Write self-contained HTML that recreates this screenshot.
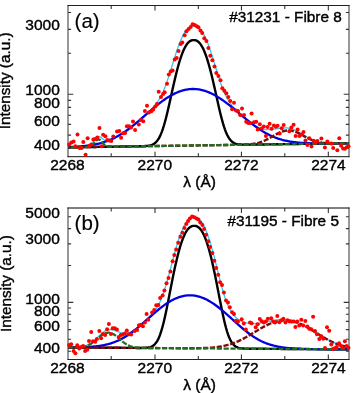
<!DOCTYPE html>
<html><head><meta charset="utf-8"><style>
html,body{margin:0;padding:0;background:#fff;}
svg{display:block;will-change:transform;}
text{font-family:"Liberation Sans",sans-serif;fill:#000;stroke:#000;stroke-width:0.4px;-webkit-font-smoothing:antialiased;}
</style></head><body>
<svg width="357" height="393" viewBox="0 0 357 393">
<rect width="357" height="393" fill="#fff"/>
<clipPath id="ca"><rect x="68.0" y="5.5" width="281.0" height="151.2"/></clipPath>
<g clip-path="url(#ca)" fill="none"><path d="M68.0,147.36 69.0,147.34 70.0,147.33 71.0,147.31 72.0,147.30 73.0,147.28 74.0,147.27 75.0,147.25 76.0,147.24 77.0,147.22 78.0,147.21 79.0,147.19 80.0,147.18 81.0,147.16 82.0,147.15 83.0,147.13 84.0,147.11 85.0,147.10 86.0,147.08 87.0,147.07 88.0,147.05 89.0,147.04 90.0,147.02 91.0,147.01 92.0,146.99 93.0,146.98 94.0,146.96 95.0,146.95 96.0,146.93 97.0,146.92 98.0,146.90 99.0,146.89 100.0,146.87 101.0,146.86 102.0,146.84 103.0,146.83 104.0,146.81 105.0,146.80 106.0,146.78 107.0,146.77 108.0,146.75 109.0,146.74 110.0,146.72 111.0,146.71 112.0,146.69 113.0,146.68 114.0,146.66 115.0,146.65 116.0,146.63 117.0,146.62 118.0,146.60 119.0,146.59 120.0,146.57 121.0,146.56 122.0,146.54 123.0,146.53 124.0,146.51 125.0,146.50 126.0,146.48 127.0,146.47 128.0,146.45 129.0,146.44 130.0,146.42 131.0,146.41 132.0,146.39 133.0,146.38 134.0,146.36 135.0,146.34 136.0,146.33 137.0,146.31 138.0,146.29 139.0,146.27 140.0,146.25 141.0,146.23 142.0,146.20 143.0,146.17 144.0,146.12 145.0,146.07 146.0,146.00 147.0,145.90 148.0,145.78 149.0,145.62 150.0,145.41 151.0,145.14 152.0,144.79 153.0,144.34 154.0,143.76 155.0,143.03 156.0,142.13 157.0,141.01 158.0,139.66 159.0,138.04 160.0,136.13 161.0,133.90 162.0,131.35 163.0,128.47 164.0,125.27 165.0,121.77 166.0,117.99 167.0,113.96 168.0,109.74 169.0,105.36 170.0,100.88 171.0,96.35 172.0,91.82 173.0,87.32 174.0,82.91 175.0,78.61 176.0,74.47 177.0,70.50 178.0,66.74 179.0,63.20 180.0,59.90 181.0,56.85 182.0,54.05 183.0,51.52 184.0,49.26 185.0,47.26 186.0,45.53 187.0,44.06 188.0,42.84 189.0,41.86 190.0,41.12 191.0,40.60 192.0,40.28 193.0,40.13 194.0,40.11 195.0,40.20 196.0,40.44 197.0,40.88 198.0,41.53 199.0,42.40 200.0,43.52 201.0,44.89 202.0,46.51 203.0,48.40 204.0,50.55 205.0,52.97 206.0,55.66 207.0,58.60 208.0,61.79 209.0,65.23 210.0,68.89 211.0,72.76 212.0,76.82 213.0,81.04 214.0,85.38 215.0,89.82 216.0,94.32 217.0,98.82 218.0,103.29 219.0,107.66 220.0,111.91 221.0,115.96 222.0,119.79 223.0,123.35 224.0,126.62 225.0,129.57 226.0,132.19 227.0,134.48 228.0,136.46 229.0,138.14 230.0,139.54 231.0,140.70 232.0,141.63 233.0,142.38 234.0,142.98 235.0,143.44 236.0,143.79 237.0,144.06 238.0,144.25 239.0,144.40 240.0,144.50 241.0,144.57 242.0,144.62 243.0,144.65 244.0,144.67 245.0,144.68 246.0,144.68 247.0,144.67 248.0,144.66 249.0,144.65 250.0,144.64 251.0,144.63 252.0,144.62 253.0,144.60 254.0,144.59 255.0,144.58 256.0,144.56 257.0,144.55 258.0,144.53 259.0,144.52 260.0,144.50 261.0,144.49 262.0,144.48 263.0,144.46 264.0,144.45 265.0,144.43 266.0,144.42 267.0,144.40 268.0,144.39 269.0,144.37 270.0,144.36 271.0,144.34 272.0,144.33 273.0,144.32 274.0,144.30 275.0,144.29 276.0,144.27 277.0,144.26 278.0,144.24 279.0,144.23 280.0,144.21 281.0,144.20 282.0,144.19 283.0,144.17 284.0,144.16 285.0,144.14 286.0,144.13 287.0,144.11 288.0,144.10 289.0,144.08 290.0,144.07 291.0,144.06 292.0,144.04 293.0,144.03 294.0,144.01 295.0,144.00 296.0,143.98 297.0,143.97 298.0,143.96 299.0,143.94 300.0,143.93 301.0,143.91 302.0,143.90 303.0,143.88 304.0,143.87 305.0,143.85 306.0,143.84 307.0,143.83 308.0,143.81 309.0,143.80 310.0,143.78 311.0,143.77 312.0,143.75 313.0,143.74 314.0,143.73 315.0,143.71 316.0,143.70 317.0,143.68 318.0,143.67 319.0,143.65 320.0,143.64 321.0,143.63 322.0,143.61 323.0,143.60 324.0,143.58 325.0,143.57 326.0,143.55 327.0,143.54 328.0,143.53 329.0,143.51 330.0,143.50 331.0,143.48 332.0,143.47 333.0,143.45 334.0,143.44 335.0,143.43 336.0,143.41 337.0,143.40 338.0,143.38 339.0,143.37 340.0,143.35 341.0,143.34 342.0,143.33 343.0,143.31 344.0,143.30 345.0,143.28 346.0,143.27 347.0,143.26 348.0,143.24 349.0,143.23" stroke="#000" stroke-width="2.4"/><path d="M68.0,147.09 69.0,147.05 70.0,147.00 71.0,146.96 72.0,146.91 73.0,146.86 74.0,146.80 75.0,146.74 76.0,146.68 77.0,146.61 78.0,146.54 79.0,146.47 80.0,146.39 81.0,146.31 82.0,146.22 83.0,146.12 84.0,146.02 85.0,145.90 86.0,145.78 87.0,145.62 88.0,145.42 89.0,145.13 90.0,144.73 91.0,144.15 92.0,143.34 93.0,142.31 94.0,141.07 95.0,139.73 96.0,138.45 97.0,137.40 98.0,136.74 99.0,136.54 100.0,136.79 101.0,137.40 102.0,138.22 103.0,139.06 104.0,139.79 105.0,140.29 106.0,140.56 107.0,140.60 108.0,140.46 109.0,140.20 110.0,139.86 111.0,139.47 112.0,139.04 113.0,138.59 114.0,138.11 115.0,137.61 116.0,137.10 117.0,136.56 118.0,136.01 119.0,135.44 120.0,134.85 121.0,134.25 122.0,133.62 123.0,132.98 124.0,132.32 125.0,131.64 126.0,130.95 127.0,130.24 128.0,129.51 129.0,128.77 130.0,128.02 131.0,127.25 132.0,126.47 133.0,125.67 134.0,124.86 135.0,124.05 136.0,123.22 137.0,122.38 138.0,121.53 139.0,120.68 140.0,119.82 141.0,118.95 142.0,118.07 143.0,117.19 144.0,116.30 145.0,115.40 146.0,114.49 147.0,113.57 148.0,112.64 149.0,111.70 150.0,110.73 151.0,109.73 152.0,108.70 153.0,107.62 154.0,106.50 155.0,105.31 156.0,104.04 157.0,102.69 158.0,101.23 159.0,99.65 160.0,97.94 161.0,96.09 162.0,94.08 163.0,91.91 164.0,89.57 165.0,87.08 166.0,84.42 167.0,81.61 168.0,78.68 169.0,75.63 170.0,72.49 171.0,69.28 172.0,66.04 173.0,62.79 174.0,59.56 175.0,56.38 176.0,53.27 177.0,50.26 178.0,47.38 179.0,44.64 180.0,42.05 181.0,39.64 182.0,37.42 183.0,35.39 184.0,33.56 185.0,31.94 186.0,30.53 187.0,29.32 188.0,28.32 189.0,27.51 190.0,26.90 191.0,26.47 192.0,26.20 193.0,26.08 194.0,26.07 195.0,26.15 196.0,26.37 197.0,26.75 198.0,27.30 199.0,28.04 200.0,28.98 201.0,30.12 202.0,31.47 203.0,33.03 204.0,34.79 205.0,36.76 206.0,38.92 207.0,41.28 208.0,43.82 209.0,46.52 210.0,49.38 211.0,52.36 212.0,55.46 213.0,58.64 214.0,61.88 215.0,65.16 216.0,68.44 217.0,71.69 218.0,74.89 219.0,78.01 220.0,81.03 221.0,83.92 222.0,86.66 223.0,89.25 224.0,91.67 225.0,93.93 226.0,96.02 227.0,97.95 228.0,99.72 229.0,101.36 230.0,102.87 231.0,104.26 232.0,105.56 233.0,106.77 234.0,107.91 235.0,108.99 236.0,110.02 237.0,111.01 238.0,111.97 239.0,112.89 240.0,113.80 241.0,114.69 242.0,115.56 243.0,116.41 244.0,117.25 245.0,118.08 246.0,118.89 247.0,119.69 248.0,120.47 249.0,121.23 250.0,121.98 251.0,122.70 252.0,123.41 253.0,124.08 254.0,124.73 255.0,125.35 256.0,125.93 257.0,126.48 258.0,126.99 259.0,127.46 260.0,127.89 261.0,128.27 262.0,128.61 263.0,128.90 264.0,129.15 265.0,129.34 266.0,129.49 267.0,129.59 268.0,129.65 269.0,129.66 270.0,129.64 271.0,129.58 272.0,129.48 273.0,129.36 274.0,129.22 275.0,129.06 276.0,128.89 277.0,128.71 278.0,128.54 279.0,128.37 280.0,128.22 281.0,128.08 282.0,127.97 283.0,127.89 284.0,127.84 285.0,127.84 286.0,127.87 287.0,127.95 288.0,128.07 289.0,128.24 290.0,128.46 291.0,128.73 292.0,129.04 293.0,129.40 294.0,129.81 295.0,130.25 296.0,130.73 297.0,131.25 298.0,131.79 299.0,132.35 300.0,132.94 301.0,133.54 302.0,134.15 303.0,134.76 304.0,135.37 305.0,135.97 306.0,136.57 307.0,137.14 308.0,137.70 309.0,138.23 310.0,138.74 311.0,139.22 312.0,139.68 313.0,140.10 314.0,140.49 315.0,140.84 316.0,141.17 317.0,141.47 318.0,141.73 319.0,141.97 320.0,142.18 321.0,142.37 322.0,142.53 323.0,142.67 324.0,142.80 325.0,142.90 326.0,142.99 327.0,143.06 328.0,143.12 329.0,143.17 330.0,143.21 331.0,143.25 332.0,143.27 333.0,143.29 334.0,143.30 335.0,143.31 336.0,143.32 337.0,143.32 338.0,143.32 339.0,143.31 340.0,143.31 341.0,143.30 342.0,143.29 343.0,143.28 344.0,143.27 345.0,143.26 346.0,143.25 347.0,143.24 348.0,143.23 349.0,143.22" stroke="#2ec8f0" stroke-width="1.3"/><path d="M68.0,147.09 69.0,147.05 70.0,147.00 71.0,146.96 72.0,146.91 73.0,146.86 74.0,146.80 75.0,146.74 76.0,146.68 77.0,146.61 78.0,146.54 79.0,146.47 80.0,146.39 81.0,146.31 82.0,146.22 83.0,146.12 84.0,146.02 85.0,145.91 86.0,145.80 87.0,145.68 88.0,145.55 89.0,145.41 90.0,145.27 91.0,145.12 92.0,144.95 93.0,144.78 94.0,144.60 95.0,144.40 96.0,144.20 97.0,143.98 98.0,143.76 99.0,143.52 100.0,143.26 101.0,143.00 102.0,142.72 103.0,142.42 104.0,142.11 105.0,141.78 106.0,141.44 107.0,141.09 108.0,140.71 109.0,140.32 110.0,139.92 111.0,139.49 112.0,139.05 113.0,138.59 114.0,138.11 115.0,137.61 116.0,137.10 117.0,136.56 118.0,136.01 119.0,135.44 120.0,134.85 121.0,134.25 122.0,133.62 123.0,132.98 124.0,132.32 125.0,131.64 126.0,130.95 127.0,130.24 128.0,129.51 129.0,128.77 130.0,128.02 131.0,127.25 132.0,126.47 133.0,125.67 134.0,124.86 135.0,124.05 136.0,123.22 137.0,122.38 138.0,121.54 139.0,120.69 140.0,119.83 141.0,118.96 142.0,118.10 143.0,117.23 144.0,116.35 145.0,115.48 146.0,114.60 147.0,113.73 148.0,112.85 149.0,111.98 150.0,111.12 151.0,110.26 152.0,109.40 153.0,108.55 154.0,107.71 155.0,106.88 156.0,106.06 157.0,105.25 158.0,104.45 159.0,103.66 160.0,102.89 161.0,102.13 162.0,101.38 163.0,100.65 164.0,99.94 165.0,99.25 166.0,98.57 167.0,97.91 168.0,97.27 169.0,96.66 170.0,96.06 171.0,95.48 172.0,94.93 173.0,94.39 174.0,93.88 175.0,93.40 176.0,92.93 177.0,92.49 178.0,92.08 179.0,91.69 180.0,91.33 181.0,90.99 182.0,90.68 183.0,90.39 184.0,90.13 185.0,89.90 186.0,89.69 187.0,89.51 188.0,89.36 189.0,89.23 190.0,89.13 191.0,89.06 192.0,89.02 193.0,89.00 194.0,89.01 195.0,89.05 196.0,89.12 197.0,89.21 198.0,89.33 199.0,89.48 200.0,89.66 201.0,89.86 202.0,90.09 203.0,90.34 204.0,90.62 205.0,90.93 206.0,91.26 207.0,91.62 208.0,92.00 209.0,92.41 210.0,92.84 211.0,93.30 212.0,93.78 213.0,94.28 214.0,94.80 215.0,95.35 216.0,95.91 217.0,96.50 218.0,97.11 219.0,97.74 220.0,98.38 221.0,99.05 222.0,99.73 223.0,100.43 224.0,101.14 225.0,101.87 226.0,102.61 227.0,103.37 228.0,104.14 229.0,104.92 230.0,105.71 231.0,106.51 232.0,107.32 233.0,108.14 234.0,108.96 235.0,109.80 236.0,110.63 237.0,111.47 238.0,112.31 239.0,113.16 240.0,114.01 241.0,114.85 242.0,115.70 243.0,116.54 244.0,117.38 245.0,118.21 246.0,119.04 247.0,119.86 248.0,120.68 249.0,121.49 250.0,122.29 251.0,123.07 252.0,123.85 253.0,124.62 254.0,125.37 255.0,126.11 256.0,126.84 257.0,127.55 258.0,128.25 259.0,128.93 260.0,129.60 261.0,130.25 262.0,130.88 263.0,131.49 264.0,132.09 265.0,132.67 266.0,133.23 267.0,133.77 268.0,134.29 269.0,134.80 270.0,135.29 271.0,135.75 272.0,136.21 273.0,136.64 274.0,137.05 275.0,137.45 276.0,137.83 277.0,138.19 278.0,138.54 279.0,138.86 280.0,139.18 281.0,139.47 282.0,139.76 283.0,140.02 284.0,140.27 285.0,140.51 286.0,140.74 287.0,140.95 288.0,141.15 289.0,141.34 290.0,141.51 291.0,141.68 292.0,141.83 293.0,141.97 294.0,142.11 295.0,142.23 296.0,142.35 297.0,142.46 298.0,142.56 299.0,142.65 300.0,142.73 301.0,142.81 302.0,142.88 303.0,142.95 304.0,143.01 305.0,143.06 306.0,143.11 307.0,143.16 308.0,143.20 309.0,143.24 310.0,143.27 311.0,143.30 312.0,143.33 313.0,143.35 314.0,143.37 315.0,143.38 316.0,143.40 317.0,143.41 318.0,143.42 319.0,143.43 320.0,143.44 321.0,143.44 322.0,143.44 323.0,143.44 324.0,143.44 325.0,143.44 326.0,143.44 327.0,143.44 328.0,143.43 329.0,143.43 330.0,143.42 331.0,143.42 332.0,143.41 333.0,143.40 334.0,143.39 335.0,143.38 336.0,143.37 337.0,143.36 338.0,143.35 339.0,143.34 340.0,143.33 341.0,143.32 342.0,143.31 343.0,143.29 344.0,143.28 345.0,143.27 346.0,143.26 347.0,143.24 348.0,143.23 349.0,143.22" stroke="#0000e0" stroke-width="2.3"/><path d="M68.0,147.36 69.0,147.34 70.0,147.33 71.0,147.31 72.0,147.30 73.0,147.28 74.0,147.27 75.0,147.25 76.0,147.24 77.0,147.22 78.0,147.21 79.0,147.19 80.0,147.18 81.0,147.16 82.0,147.15 83.0,147.13 84.0,147.11 85.0,147.10 86.0,147.08 87.0,147.07 88.0,147.05 89.0,147.04 90.0,147.02 91.0,147.01 92.0,146.99 93.0,146.98 94.0,146.96 95.0,146.95 96.0,146.93 97.0,146.92 98.0,146.90 99.0,146.89 100.0,146.87 101.0,146.86 102.0,146.84 103.0,146.83 104.0,146.81 105.0,146.80 106.0,146.78 107.0,146.77 108.0,146.75 109.0,146.74 110.0,146.72 111.0,146.71 112.0,146.69 113.0,146.68 114.0,146.66 115.0,146.65 116.0,146.63 117.0,146.62 118.0,146.60 119.0,146.59 120.0,146.57 121.0,146.56 122.0,146.54 123.0,146.53 124.0,146.51 125.0,146.50 126.0,146.48 127.0,146.47 128.0,146.45 129.0,146.44 130.0,146.42 131.0,146.41 132.0,146.39 133.0,146.38 134.0,146.36 135.0,146.35 136.0,146.33 137.0,146.32 138.0,146.30 139.0,146.29 140.0,146.27 141.0,146.26 142.0,146.24 143.0,146.23 144.0,146.21 145.0,146.20 146.0,146.18 147.0,146.17 148.0,146.15 149.0,146.14 150.0,146.12 151.0,146.11 152.0,146.09 153.0,146.08 154.0,146.06 155.0,146.05 156.0,146.03 157.0,146.02 158.0,146.00 159.0,145.99 160.0,145.97 161.0,145.96 162.0,145.94 163.0,145.93 164.0,145.91 165.0,145.90 166.0,145.88 167.0,145.87 168.0,145.85 169.0,145.84 170.0,145.82 171.0,145.81 172.0,145.80 173.0,145.78 174.0,145.77 175.0,145.75 176.0,145.74 177.0,145.72 178.0,145.71 179.0,145.69 180.0,145.68 181.0,145.66 182.0,145.65 183.0,145.63 184.0,145.62 185.0,145.60 186.0,145.59 187.0,145.57 188.0,145.56 189.0,145.54 190.0,145.53 191.0,145.51 192.0,145.50 193.0,145.48 194.0,145.47 195.0,145.45 196.0,145.44 197.0,145.43 198.0,145.41 199.0,145.40 200.0,145.38 201.0,145.37 202.0,145.35 203.0,145.34 204.0,145.32 205.0,145.31 206.0,145.29 207.0,145.28 208.0,145.26 209.0,145.25 210.0,145.23 211.0,145.22 212.0,145.20 213.0,145.19 214.0,145.18 215.0,145.16 216.0,145.15 217.0,145.13 218.0,145.12 219.0,145.10 220.0,145.09 221.0,145.07 222.0,145.06 223.0,145.04 224.0,145.03 225.0,145.01 226.0,145.00 227.0,144.98 228.0,144.97 229.0,144.95 230.0,144.94 231.0,144.92 232.0,144.90 233.0,144.89 234.0,144.87 235.0,144.85 236.0,144.83 237.0,144.81 238.0,144.79 239.0,144.77 240.0,144.74 241.0,144.71 242.0,144.68 243.0,144.65 244.0,144.60 245.0,144.56 246.0,144.51 247.0,144.45 248.0,144.38 249.0,144.30 250.0,144.21 251.0,144.11 252.0,143.99 253.0,143.85 254.0,143.70 255.0,143.53 256.0,143.34 257.0,143.12 258.0,142.88 259.0,142.61 260.0,142.31 261.0,141.99 262.0,141.63 263.0,141.25 264.0,140.84 265.0,140.40 266.0,139.93 267.0,139.43 268.0,138.92 269.0,138.38 270.0,137.82 271.0,137.25 272.0,136.68 273.0,136.10 274.0,135.52 275.0,134.94 276.0,134.38 277.0,133.84 278.0,133.32 279.0,132.83 280.0,132.37 281.0,131.95 282.0,131.57 283.0,131.25 284.0,130.97 285.0,130.75 286.0,130.58 287.0,130.47 288.0,130.42 289.0,130.43 290.0,130.50 291.0,130.63 292.0,130.82 293.0,131.06 294.0,131.35 295.0,131.69 296.0,132.07 297.0,132.49 298.0,132.95 299.0,133.44 300.0,133.95 301.0,134.48 302.0,135.02 303.0,135.57 304.0,136.12 305.0,136.67 306.0,137.21 307.0,137.74 308.0,138.26 309.0,138.75 310.0,139.22 311.0,139.66 312.0,140.08 313.0,140.47 314.0,140.83 315.0,141.16 316.0,141.46 317.0,141.73 318.0,141.97 319.0,142.19 320.0,142.38 321.0,142.55 322.0,142.70 323.0,142.82 324.0,142.93 325.0,143.02 326.0,143.10 327.0,143.16 328.0,143.22 329.0,143.26 330.0,143.29 331.0,143.31 332.0,143.33 333.0,143.34 334.0,143.35 335.0,143.36 336.0,143.36 337.0,143.35 338.0,143.35 339.0,143.34 340.0,143.33 341.0,143.32 342.0,143.31 343.0,143.30 344.0,143.29 345.0,143.28 346.0,143.27 347.0,143.25 348.0,143.24 349.0,143.22" stroke="#7c0c0c" stroke-width="2.4" stroke-dasharray="5.2 1.65" stroke-dashoffset="2.49"/><path d="M68.0,147.36 69.0,147.34 70.0,147.33 71.0,147.31 72.0,147.30 73.0,147.28 74.0,147.27 75.0,147.25 76.0,147.24 77.0,147.22 78.0,147.21 79.0,147.19 80.0,147.18 81.0,147.16 82.0,147.14 83.0,147.13 84.0,147.11 85.0,147.09 86.0,147.06 87.0,147.01 88.0,146.92 89.0,146.75 90.0,146.47 91.0,146.01 92.0,145.33 93.0,144.41 94.0,143.29 95.0,142.08 96.0,140.93 97.0,140.02 98.0,139.52 99.0,139.52 100.0,140.01 101.0,140.91 102.0,142.04 103.0,143.22 104.0,144.30 105.0,145.17 106.0,145.81 107.0,146.23 108.0,146.47 109.0,146.60 110.0,146.66 111.0,146.68 112.0,146.68 113.0,146.67 114.0,146.66 115.0,146.65 116.0,146.63 117.0,146.62 118.0,146.60 119.0,146.59 120.0,146.57 121.0,146.56 122.0,146.54 123.0,146.53 124.0,146.51 125.0,146.50 126.0,146.48 127.0,146.47 128.0,146.45 129.0,146.44 130.0,146.42 131.0,146.41 132.0,146.39 133.0,146.38 134.0,146.36 135.0,146.35 136.0,146.33 137.0,146.32 138.0,146.30 139.0,146.29 140.0,146.27 141.0,146.26 142.0,146.24 143.0,146.23 144.0,146.21 145.0,146.20 146.0,146.18 147.0,146.17 148.0,146.15 149.0,146.14 150.0,146.12 151.0,146.11 152.0,146.09 153.0,146.08 154.0,146.06 155.0,146.05 156.0,146.03 157.0,146.02 158.0,146.00 159.0,145.99 160.0,145.97 161.0,145.96 162.0,145.94 163.0,145.93 164.0,145.91 165.0,145.90 166.0,145.88 167.0,145.87 168.0,145.85 169.0,145.84 170.0,145.82 171.0,145.81 172.0,145.80 173.0,145.78 174.0,145.77 175.0,145.75 176.0,145.74 177.0,145.72 178.0,145.71 179.0,145.69 180.0,145.68 181.0,145.66 182.0,145.65 183.0,145.63 184.0,145.62 185.0,145.60 186.0,145.59 187.0,145.57 188.0,145.56 189.0,145.54 190.0,145.53 191.0,145.51 192.0,145.50 193.0,145.48 194.0,145.47 195.0,145.45 196.0,145.44 197.0,145.43 198.0,145.41 199.0,145.40 200.0,145.38 201.0,145.37 202.0,145.35 203.0,145.34 204.0,145.32 205.0,145.31 206.0,145.29 207.0,145.28 208.0,145.26 209.0,145.25 210.0,145.23 211.0,145.22 212.0,145.20 213.0,145.19 214.0,145.18 215.0,145.16 216.0,145.15 217.0,145.13 218.0,145.12 219.0,145.10 220.0,145.09 221.0,145.07 222.0,145.06 223.0,145.04 224.0,145.03 225.0,145.01 226.0,145.00 227.0,144.98 228.0,144.97 229.0,144.96 230.0,144.94 231.0,144.93 232.0,144.91 233.0,144.90 234.0,144.88 235.0,144.87 236.0,144.85 237.0,144.84 238.0,144.82 239.0,144.81 240.0,144.80 241.0,144.78 242.0,144.77 243.0,144.75 244.0,144.74 245.0,144.72 246.0,144.71 247.0,144.69 248.0,144.68 249.0,144.66 250.0,144.65 251.0,144.63 252.0,144.62 253.0,144.61 254.0,144.59 255.0,144.58 256.0,144.56 257.0,144.55 258.0,144.53 259.0,144.52 260.0,144.50 261.0,144.49 262.0,144.48 263.0,144.46 264.0,144.45 265.0,144.43 266.0,144.42 267.0,144.40 268.0,144.39 269.0,144.37 270.0,144.36 271.0,144.34 272.0,144.33 273.0,144.32 274.0,144.30 275.0,144.29 276.0,144.27 277.0,144.26 278.0,144.24 279.0,144.23 280.0,144.21 281.0,144.20 282.0,144.19 283.0,144.17 284.0,144.16 285.0,144.14 286.0,144.13 287.0,144.11 288.0,144.10 289.0,144.08 290.0,144.07 291.0,144.06 292.0,144.04 293.0,144.03 294.0,144.01 295.0,144.00 296.0,143.98 297.0,143.97 298.0,143.96 299.0,143.94 300.0,143.93 301.0,143.91 302.0,143.90 303.0,143.88 304.0,143.87 305.0,143.85 306.0,143.84 307.0,143.83 308.0,143.81 309.0,143.80 310.0,143.78 311.0,143.77 312.0,143.75 313.0,143.74 314.0,143.73 315.0,143.71 316.0,143.70 317.0,143.68 318.0,143.67 319.0,143.65 320.0,143.64 321.0,143.63 322.0,143.61 323.0,143.60 324.0,143.58 325.0,143.57 326.0,143.55 327.0,143.54 328.0,143.53 329.0,143.51 330.0,143.50 331.0,143.48 332.0,143.47 333.0,143.45 334.0,143.44 335.0,143.43 336.0,143.41 337.0,143.40 338.0,143.38 339.0,143.37 340.0,143.35 341.0,143.34 342.0,143.33 343.0,143.31 344.0,143.30 345.0,143.28 346.0,143.27 347.0,143.26 348.0,143.24 349.0,143.23" stroke="#1a7020" stroke-width="2.3" stroke-dasharray="5.2 1.65" stroke-dashoffset="3.89"/></g>
<path d="M68.0,5.0 V157.2 M349.0,5.0 V157.2" stroke="#333" stroke-width="1"/>
<path d="M67.5,5.5 H349.5" stroke="#222" stroke-width="1.1"/>
<path d="M67.5,156.7 H349.5" stroke="#111" stroke-width="1.0"/>
<path d="M111.2,156.7 v-3.5 M111.2,5.5 v3.5 M155.0,156.7 v-5 M155.0,5.5 v5 M198.3,156.7 v-3.5 M198.3,5.5 v3.5 M241.4,156.7 v-5 M241.4,5.5 v5 M284.8,156.7 v-3.5 M284.8,5.5 v3.5 M328.3,156.7 v-5 M328.3,5.5 v5" stroke="#222" stroke-width="1"/>
<path d="M68.0,148.24 h3.1 M349.0,148.24 h-3.1 M68.0,135.08 h3.1 M349.0,135.08 h-3.1 M68.0,124.33 h3.1 M349.0,124.33 h-3.1 M68.0,115.24 h3.1 M349.0,115.24 h-3.1 M68.0,107.36 h3.1 M349.0,107.36 h-3.1 M68.0,100.41 h3.1 M349.0,100.41 h-3.1 M68.0,94.20 h5.3 M349.0,94.20 h-5.3 M68.0,53.32 h3.1 M349.0,53.32 h-3.1 M68.0,29.41 h3.1 M349.0,29.41 h-3.1 M68.0,12.44 h3.1 M349.0,12.44 h-3.1" stroke="#333" stroke-width="1.1"/>
<g fill="#ff0000"><circle cx="69.2" cy="144.4" r="2"/><circle cx="71.4" cy="142.4" r="2"/><circle cx="73.6" cy="141.5" r="2"/><circle cx="75.4" cy="146.3" r="2"/><circle cx="77.5" cy="134.4" r="2"/><circle cx="79.7" cy="148.0" r="2"/><circle cx="81.6" cy="148.0" r="2"/><circle cx="83.3" cy="142.1" r="2"/><circle cx="85.6" cy="154.8" r="2"/><circle cx="87.6" cy="138.3" r="2"/><circle cx="89.4" cy="145.8" r="2"/><circle cx="91.3" cy="144.4" r="2"/><circle cx="93.4" cy="139.6" r="2"/><circle cx="95.2" cy="139.0" r="2"/><circle cx="97.3" cy="137.6" r="2"/><circle cx="99.5" cy="128.1" r="2"/><circle cx="101.4" cy="146.2" r="2"/><circle cx="103.1" cy="134.8" r="2"/><circle cx="105.4" cy="136.3" r="2"/><circle cx="107.3" cy="140.0" r="2"/><circle cx="109.2" cy="140.5" r="2"/><circle cx="111.3" cy="140.9" r="2"/><circle cx="113.3" cy="136.4" r="2"/><circle cx="117.0" cy="131.5" r="2"/><circle cx="119.2" cy="130.9" r="2"/><circle cx="121.1" cy="137.7" r="2"/><circle cx="123.3" cy="133.2" r="2"/><circle cx="125.1" cy="133.1" r="2"/><circle cx="126.9" cy="126.2" r="2"/><circle cx="129.0" cy="126.2" r="2"/><circle cx="131.0" cy="127.5" r="2"/><circle cx="133.0" cy="121.4" r="2"/><circle cx="135.1" cy="130.0" r="2"/><circle cx="138.8" cy="124.4" r="2"/><circle cx="140.9" cy="120.1" r="2"/><circle cx="143.2" cy="121.2" r="2"/><circle cx="144.9" cy="111.0" r="2"/><circle cx="147.0" cy="105.8" r="2"/><circle cx="149.0" cy="112.4" r="2"/><circle cx="151.3" cy="111.2" r="2"/><circle cx="153.2" cy="109.5" r="2"/><circle cx="155.3" cy="106.4" r="2"/><circle cx="157.0" cy="104.1" r="2"/><circle cx="158.7" cy="91.8" r="2"/><circle cx="161.0" cy="96.9" r="2"/><circle cx="163.1" cy="94.1" r="2"/><circle cx="164.7" cy="92.3" r="2"/><circle cx="167.0" cy="83.7" r="2"/><circle cx="168.8" cy="74.5" r="2"/><circle cx="170.7" cy="71.4" r="2"/><circle cx="172.6" cy="70.5" r="2"/><circle cx="174.7" cy="59.4" r="2"/><circle cx="176.7" cy="58.0" r="2"/><circle cx="178.5" cy="51.1" r="2"/><circle cx="180.6" cy="44.1" r="2"/><circle cx="182.3" cy="42.6" r="2"/><circle cx="184.6" cy="35.2" r="2"/><circle cx="186.4" cy="31.3" r="2"/><circle cx="188.6" cy="29.0" r="2"/><circle cx="190.7" cy="27.0" r="2"/><circle cx="192.6" cy="24.3" r="2"/><circle cx="194.7" cy="25.1" r="2"/><circle cx="196.8" cy="26.2" r="2"/><circle cx="198.4" cy="27.2" r="2"/><circle cx="200.5" cy="30.6" r="2"/><circle cx="202.2" cy="33.1" r="2"/><circle cx="204.3" cy="38.2" r="2"/><circle cx="206.4" cy="41.1" r="2"/><circle cx="208.4" cy="47.9" r="2"/><circle cx="210.3" cy="55.7" r="2"/><circle cx="212.4" cy="60.3" r="2"/><circle cx="214.5" cy="66.6" r="2"/><circle cx="216.3" cy="72.9" r="2"/><circle cx="218.4" cy="76.1" r="2"/><circle cx="220.5" cy="80.3" r="2"/><circle cx="222.4" cy="88.3" r="2"/><circle cx="224.3" cy="90.7" r="2"/><circle cx="226.4" cy="93.3" r="2"/><circle cx="228.3" cy="97.0" r="2"/><circle cx="230.2" cy="101.0" r="2"/><circle cx="232.1" cy="109.3" r="2"/><circle cx="234.0" cy="102.8" r="2"/><circle cx="236.0" cy="110.4" r="2"/><circle cx="238.0" cy="111.1" r="2"/><circle cx="240.1" cy="115.0" r="2"/><circle cx="242.0" cy="108.5" r="2"/><circle cx="244.0" cy="115.0" r="2"/><circle cx="246.2" cy="121.7" r="2"/><circle cx="248.2" cy="123.0" r="2"/><circle cx="250.1" cy="123.0" r="2"/><circle cx="251.6" cy="113.6" r="2"/><circle cx="254.0" cy="122.3" r="2"/><circle cx="256.2" cy="121.8" r="2"/><circle cx="257.7" cy="129.4" r="2"/><circle cx="259.8" cy="124.3" r="2"/><circle cx="261.8" cy="128.4" r="2"/><circle cx="263.8" cy="126.4" r="2"/><circle cx="265.9" cy="136.0" r="2"/><circle cx="267.6" cy="126.9" r="2"/><circle cx="269.6" cy="123.8" r="2"/><circle cx="271.6" cy="128.8" r="2"/><circle cx="273.9" cy="125.5" r="2"/><circle cx="275.9" cy="126.8" r="2"/><circle cx="277.6" cy="125.8" r="2"/><circle cx="279.7" cy="133.6" r="2"/><circle cx="281.7" cy="128.3" r="2"/><circle cx="283.7" cy="125.1" r="2"/><circle cx="289.3" cy="131.2" r="2"/><circle cx="291.4" cy="127.5" r="2"/><circle cx="293.6" cy="124.8" r="2"/><circle cx="295.6" cy="135.9" r="2"/><circle cx="297.6" cy="129.4" r="2"/><circle cx="299.4" cy="135.9" r="2"/><circle cx="301.6" cy="134.5" r="2"/><circle cx="303.5" cy="132.0" r="2"/><circle cx="305.5" cy="140.5" r="2"/><circle cx="307.4" cy="145.1" r="2"/><circle cx="309.3" cy="138.3" r="2"/><circle cx="311.5" cy="146.6" r="2"/><circle cx="313.6" cy="140.7" r="2"/><circle cx="315.3" cy="142.7" r="2"/><circle cx="317.3" cy="141.0" r="2"/><circle cx="321.4" cy="138.4" r="2"/><circle cx="324.9" cy="147.5" r="2"/><circle cx="327.4" cy="141.6" r="2"/><circle cx="331.3" cy="143.6" r="2"/><circle cx="333.2" cy="148.1" r="2"/><circle cx="337.3" cy="150.3" r="2"/><circle cx="339.3" cy="138.3" r="2"/><circle cx="341.1" cy="145.8" r="2"/><circle cx="343.1" cy="148.5" r="2"/><circle cx="344.9" cy="148.7" r="2"/><circle cx="346.7" cy="147.2" r="2"/><circle cx="348.5" cy="146.3" r="2"/></g>
<clipPath id="cb"><rect x="68.0" y="208.0" width="281.0" height="151.5"/></clipPath>
<g clip-path="url(#cb)" fill="none"><path d="M68.0,347.46 69.0,347.47 70.0,347.48 71.0,347.48 72.0,347.49 73.0,347.50 74.0,347.50 75.0,347.51 76.0,347.52 77.0,347.52 78.0,347.53 79.0,347.54 80.0,347.54 81.0,347.55 82.0,347.56 83.0,347.56 84.0,347.57 85.0,347.58 86.0,347.58 87.0,347.59 88.0,347.60 89.0,347.61 90.0,347.61 91.0,347.62 92.0,347.63 93.0,347.63 94.0,347.64 95.0,347.65 96.0,347.65 97.0,347.66 98.0,347.67 99.0,347.67 100.0,347.68 101.0,347.69 102.0,347.69 103.0,347.70 104.0,347.71 105.0,347.71 106.0,347.72 107.0,347.73 108.0,347.73 109.0,347.74 110.0,347.75 111.0,347.76 112.0,347.76 113.0,347.77 114.0,347.78 115.0,347.78 116.0,347.79 117.0,347.80 118.0,347.80 119.0,347.81 120.0,347.82 121.0,347.82 122.0,347.83 123.0,347.84 124.0,347.84 125.0,347.85 126.0,347.86 127.0,347.86 128.0,347.87 129.0,347.88 130.0,347.89 131.0,347.89 132.0,347.90 133.0,347.91 134.0,347.91 135.0,347.92 136.0,347.92 137.0,347.93 138.0,347.93 139.0,347.93 140.0,347.93 141.0,347.93 142.0,347.92 143.0,347.90 144.0,347.87 145.0,347.83 146.0,347.76 147.0,347.67 148.0,347.54 149.0,347.36 150.0,347.11 151.0,346.77 152.0,346.33 153.0,345.75 154.0,345.00 155.0,344.04 156.0,342.85 157.0,341.37 158.0,339.58 159.0,337.43 160.0,334.91 161.0,332.00 162.0,328.70 163.0,325.01 164.0,320.97 165.0,316.61 166.0,311.97 167.0,307.12 168.0,302.11 169.0,296.99 170.0,291.84 171.0,286.69 172.0,281.61 173.0,276.63 174.0,271.78 175.0,267.12 176.0,262.65 177.0,258.40 178.0,254.39 179.0,250.64 180.0,247.15 181.0,243.93 182.0,240.98 183.0,238.31 184.0,235.92 185.0,233.80 186.0,231.96 187.0,230.38 188.0,229.06 189.0,227.98 190.0,227.15 191.0,226.53 192.0,226.13 193.0,225.91 194.0,225.84 195.0,225.87 196.0,226.04 197.0,226.38 198.0,226.92 199.0,227.68 200.0,228.67 201.0,229.91 202.0,231.40 203.0,233.16 204.0,235.19 205.0,237.49 206.0,240.07 207.0,242.92 208.0,246.05 209.0,249.45 210.0,253.12 211.0,257.05 212.0,261.23 213.0,265.63 214.0,270.24 215.0,275.03 216.0,279.98 217.0,285.05 218.0,290.20 219.0,295.37 220.0,300.52 221.0,305.60 222.0,310.53 223.0,315.27 224.0,319.76 225.0,323.94 226.0,327.78 227.0,331.25 228.0,334.32 229.0,337.00 230.0,339.30 231.0,341.24 232.0,342.85 233.0,344.16 234.0,345.21 235.0,346.05 236.0,346.71 237.0,347.21 238.0,347.60 239.0,347.89 240.0,348.11 241.0,348.27 242.0,348.39 243.0,348.48 244.0,348.55 245.0,348.59 246.0,348.63 247.0,348.65 248.0,348.67 249.0,348.69 250.0,348.70 251.0,348.71 252.0,348.72 253.0,348.73 254.0,348.74 255.0,348.75 256.0,348.75 257.0,348.76 258.0,348.77 259.0,348.78 260.0,348.78 261.0,348.79 262.0,348.80 263.0,348.80 264.0,348.81 265.0,348.82 266.0,348.82 267.0,348.83 268.0,348.84 269.0,348.85 270.0,348.85 271.0,348.86 272.0,348.87 273.0,348.87 274.0,348.88 275.0,348.89 276.0,348.89 277.0,348.90 278.0,348.91 279.0,348.92 280.0,348.92 281.0,348.93 282.0,348.94 283.0,348.94 284.0,348.95 285.0,348.96 286.0,348.96 287.0,348.97 288.0,348.98 289.0,348.99 290.0,348.99 291.0,349.00 292.0,349.01 293.0,349.01 294.0,349.02 295.0,349.03 296.0,349.03 297.0,349.04 298.0,349.05 299.0,349.06 300.0,349.06 301.0,349.07 302.0,349.08 303.0,349.08 304.0,349.09 305.0,349.10 306.0,349.10 307.0,349.11 308.0,349.12 309.0,349.13 310.0,349.13 311.0,349.14 312.0,349.15 313.0,349.15 314.0,349.16 315.0,349.17 316.0,349.17 317.0,349.18 318.0,349.19 319.0,349.20 320.0,349.20 321.0,349.21 322.0,349.22 323.0,349.22 324.0,349.23 325.0,349.24 326.0,349.24 327.0,349.25 328.0,349.26 329.0,349.27 330.0,349.27 331.0,349.28 332.0,349.29 333.0,349.29 334.0,349.30 335.0,349.31 336.0,349.32 337.0,349.32 338.0,349.33 339.0,349.34 340.0,349.34 341.0,349.35 342.0,349.36 343.0,349.36 344.0,349.37 345.0,349.38 346.0,349.39 347.0,349.39 348.0,349.40 349.0,349.41" stroke="#000" stroke-width="2.4"/><path d="M68.0,347.38 69.0,347.37 70.0,347.37 71.0,347.35 72.0,347.34 73.0,347.32 74.0,347.30 75.0,347.26 76.0,347.22 77.0,347.17 78.0,347.10 79.0,347.02 80.0,346.91 81.0,346.78 82.0,346.62 83.0,346.42 84.0,346.18 85.0,345.90 86.0,345.56 87.0,345.17 88.0,344.71 89.0,344.20 90.0,343.61 91.0,342.96 92.0,342.24 93.0,341.45 94.0,340.62 95.0,339.73 96.0,338.81 97.0,337.86 98.0,336.90 99.0,335.95 100.0,335.01 101.0,334.12 102.0,333.27 103.0,332.49 104.0,331.78 105.0,331.17 106.0,330.65 107.0,330.23 108.0,329.92 109.0,329.72 110.0,329.63 111.0,329.64 112.0,329.74 113.0,329.92 114.0,330.17 115.0,330.49 116.0,330.84 117.0,331.22 118.0,331.60 119.0,331.98 120.0,332.33 121.0,332.64 122.0,332.90 123.0,333.09 124.0,333.22 125.0,333.26 126.0,333.22 127.0,333.10 128.0,332.89 129.0,332.60 130.0,332.24 131.0,331.81 132.0,331.30 133.0,330.74 134.0,330.13 135.0,329.47 136.0,328.77 137.0,328.03 138.0,327.26 139.0,326.46 140.0,325.64 141.0,324.80 142.0,323.94 143.0,323.06 144.0,322.17 145.0,321.26 146.0,320.33 147.0,319.38 148.0,318.41 149.0,317.42 150.0,316.39 151.0,315.32 152.0,314.21 153.0,313.03 154.0,311.77 155.0,310.43 156.0,308.97 157.0,307.39 158.0,305.67 159.0,303.79 160.0,301.72 161.0,299.47 162.0,297.01 163.0,294.34 164.0,291.46 165.0,288.39 166.0,285.12 167.0,281.69 168.0,278.12 169.0,274.43 170.0,270.66 171.0,266.85 172.0,263.02 173.0,259.21 174.0,255.46 175.0,251.79 176.0,248.23 177.0,244.81 178.0,241.54 179.0,238.45 180.0,235.55 181.0,232.86 182.0,230.38 183.0,228.11 184.0,226.08 185.0,224.26 186.0,222.68 187.0,221.32 188.0,220.18 189.0,219.26 190.0,218.54 191.0,218.03 192.0,217.69 193.0,217.52 194.0,217.48 195.0,217.54 196.0,217.72 197.0,218.06 198.0,218.58 199.0,219.29 200.0,220.20 201.0,221.33 202.0,222.69 203.0,224.27 204.0,226.08 205.0,228.13 206.0,230.41 207.0,232.91 208.0,235.64 209.0,238.59 210.0,241.74 211.0,245.09 212.0,248.61 213.0,252.29 214.0,256.10 215.0,260.02 216.0,264.01 217.0,268.05 218.0,272.10 219.0,276.12 220.0,280.07 221.0,283.93 222.0,287.64 223.0,291.18 224.0,294.52 225.0,297.64 226.0,300.53 227.0,303.18 228.0,305.58 229.0,307.74 230.0,309.68 231.0,311.40 232.0,312.93 233.0,314.29 234.0,315.48 235.0,316.54 236.0,317.48 237.0,318.31 238.0,319.05 239.0,319.71 240.0,320.29 241.0,320.82 242.0,321.29 243.0,321.70 244.0,322.07 245.0,322.39 246.0,322.67 247.0,322.91 248.0,323.11 249.0,323.28 250.0,323.40 251.0,323.50 252.0,323.55 253.0,323.58 254.0,323.58 255.0,323.55 256.0,323.49 257.0,323.40 258.0,323.29 259.0,323.17 260.0,323.02 261.0,322.86 262.0,322.68 263.0,322.49 264.0,322.29 265.0,322.09 266.0,321.88 267.0,321.67 268.0,321.45 269.0,321.24 270.0,321.04 271.0,320.84 272.0,320.65 273.0,320.47 274.0,320.30 275.0,320.15 276.0,320.01 277.0,319.88 278.0,319.78 279.0,319.70 280.0,319.63 281.0,319.59 282.0,319.57 283.0,319.58 284.0,319.61 285.0,319.66 286.0,319.74 287.0,319.85 288.0,319.98 289.0,320.14 290.0,320.32 291.0,320.54 292.0,320.77 293.0,321.04 294.0,321.33 295.0,321.65 296.0,321.99 297.0,322.35 298.0,322.74 299.0,323.15 300.0,323.59 301.0,324.04 302.0,324.52 303.0,325.01 304.0,325.53 305.0,326.06 306.0,326.60 307.0,327.16 308.0,327.74 309.0,328.32 310.0,328.92 311.0,329.52 312.0,330.14 313.0,330.76 314.0,331.38 315.0,332.00 316.0,332.63 317.0,333.26 318.0,333.88 319.0,334.51 320.0,335.13 321.0,335.74 322.0,336.34 323.0,336.94 324.0,337.53 325.0,338.11 326.0,338.67 327.0,339.23 328.0,339.77 329.0,340.29 330.0,340.80 331.0,341.30 332.0,341.77 333.0,342.24 334.0,342.68 335.0,343.11 336.0,343.52 337.0,343.91 338.0,344.28 339.0,344.64 340.0,344.98 341.0,345.30 342.0,345.61 343.0,345.90 344.0,346.17 345.0,346.43 346.0,346.67 347.0,346.90 348.0,347.11 349.0,347.31" stroke="#2ec8f0" stroke-width="1.3"/><path d="M68.0,347.39 69.0,347.38 70.0,347.38 71.0,347.37 72.0,347.37 73.0,347.36 74.0,347.35 75.0,347.34 76.0,347.33 77.0,347.31 78.0,347.30 79.0,347.28 80.0,347.26 81.0,347.23 82.0,347.20 83.0,347.17 84.0,347.14 85.0,347.10 86.0,347.06 87.0,347.01 88.0,346.96 89.0,346.90 90.0,346.84 91.0,346.77 92.0,346.69 93.0,346.61 94.0,346.52 95.0,346.42 96.0,346.31 97.0,346.20 98.0,346.07 99.0,345.93 100.0,345.79 101.0,345.63 102.0,345.46 103.0,345.28 104.0,345.08 105.0,344.87 106.0,344.65 107.0,344.41 108.0,344.16 109.0,343.88 110.0,343.60 111.0,343.29 112.0,342.97 113.0,342.62 114.0,342.26 115.0,341.88 116.0,341.48 117.0,341.06 118.0,340.62 119.0,340.15 120.0,339.67 121.0,339.16 122.0,338.63 123.0,338.08 124.0,337.51 125.0,336.92 126.0,336.30 127.0,335.67 128.0,335.01 129.0,334.34 130.0,333.64 131.0,332.93 132.0,332.19 133.0,331.44 134.0,330.67 135.0,329.88 136.0,329.08 137.0,328.27 138.0,327.44 139.0,326.60 140.0,325.75 141.0,324.89 142.0,324.02 143.0,323.14 144.0,322.26 145.0,321.37 146.0,320.48 147.0,319.58 148.0,318.69 149.0,317.80 150.0,316.91 151.0,316.02 152.0,315.13 153.0,314.26 154.0,313.38 155.0,312.52 156.0,311.67 157.0,310.83 158.0,310.00 159.0,309.19 160.0,308.38 161.0,307.60 162.0,306.83 163.0,306.08 164.0,305.35 165.0,304.64 166.0,303.95 167.0,303.28 168.0,302.63 169.0,302.00 170.0,301.40 171.0,300.83 172.0,300.28 173.0,299.76 174.0,299.26 175.0,298.79 176.0,298.35 177.0,297.94 178.0,297.55 179.0,297.20 180.0,296.87 181.0,296.58 182.0,296.31 183.0,296.08 184.0,295.87 185.0,295.70 186.0,295.56 187.0,295.45 188.0,295.38 189.0,295.33 190.0,295.32 191.0,295.33 192.0,295.38 193.0,295.47 194.0,295.58 195.0,295.72 196.0,295.90 197.0,296.11 198.0,296.35 199.0,296.62 200.0,296.92 201.0,297.25 202.0,297.60 203.0,297.99 204.0,298.41 205.0,298.86 206.0,299.33 207.0,299.84 208.0,300.37 209.0,300.92 210.0,301.50 211.0,302.11 212.0,302.74 213.0,303.39 214.0,304.07 215.0,304.77 216.0,305.49 217.0,306.23 218.0,306.99 219.0,307.77 220.0,308.56 221.0,309.37 222.0,310.19 223.0,311.03 224.0,311.88 225.0,312.75 226.0,313.62 227.0,314.50 228.0,315.39 229.0,316.29 230.0,317.19 231.0,318.09 232.0,319.00 233.0,319.91 234.0,320.82 235.0,321.72 236.0,322.62 237.0,323.52 238.0,324.42 239.0,325.30 240.0,326.18 241.0,327.05 242.0,327.91 243.0,328.75 244.0,329.58 245.0,330.40 246.0,331.21 247.0,331.99 248.0,332.77 249.0,333.52 250.0,334.25 251.0,334.97 252.0,335.67 253.0,336.34 254.0,337.00 255.0,337.63 256.0,338.25 257.0,338.84 258.0,339.41 259.0,339.96 260.0,340.48 261.0,340.99 262.0,341.47 263.0,341.93 264.0,342.38 265.0,342.80 266.0,343.20 267.0,343.58 268.0,343.94 269.0,344.28 270.0,344.61 271.0,344.92 272.0,345.21 273.0,345.48 274.0,345.74 275.0,345.98 276.0,346.21 277.0,346.42 278.0,346.62 279.0,346.81 280.0,346.98 281.0,347.15 282.0,347.30 283.0,347.44 284.0,347.57 285.0,347.70 286.0,347.81 287.0,347.92 288.0,348.02 289.0,348.11 290.0,348.19 291.0,348.27 292.0,348.35 293.0,348.41 294.0,348.48 295.0,348.53 296.0,348.59 297.0,348.64 298.0,348.68 299.0,348.73 300.0,348.77 301.0,348.80 302.0,348.84 303.0,348.87 304.0,348.90 305.0,348.92 306.0,348.95 307.0,348.97 308.0,348.99 309.0,349.01 310.0,349.03 311.0,349.05 312.0,349.07 313.0,349.08 314.0,349.10 315.0,349.11 316.0,349.12 317.0,349.14 318.0,349.15 319.0,349.16 320.0,349.17 321.0,349.18 322.0,349.19 323.0,349.20 324.0,349.21 325.0,349.22 326.0,349.23 327.0,349.24 328.0,349.25 329.0,349.26 330.0,349.26 331.0,349.27 332.0,349.28 333.0,349.29 334.0,349.30 335.0,349.30 336.0,349.31 337.0,349.32 338.0,349.33 339.0,349.33 340.0,349.34 341.0,349.35 342.0,349.36 343.0,349.36 344.0,349.37 345.0,349.38 346.0,349.38 347.0,349.39 348.0,349.40 349.0,349.41" stroke="#0000e0" stroke-width="2.3"/><path d="M68.0,347.46 69.0,347.47 70.0,347.48 71.0,347.48 72.0,347.49 73.0,347.50 74.0,347.50 75.0,347.51 76.0,347.52 77.0,347.52 78.0,347.53 79.0,347.54 80.0,347.54 81.0,347.55 82.0,347.56 83.0,347.56 84.0,347.57 85.0,347.58 86.0,347.58 87.0,347.59 88.0,347.60 89.0,347.61 90.0,347.61 91.0,347.62 92.0,347.63 93.0,347.63 94.0,347.64 95.0,347.65 96.0,347.65 97.0,347.66 98.0,347.67 99.0,347.67 100.0,347.68 101.0,347.69 102.0,347.69 103.0,347.70 104.0,347.71 105.0,347.71 106.0,347.72 107.0,347.73 108.0,347.73 109.0,347.74 110.0,347.75 111.0,347.76 112.0,347.76 113.0,347.77 114.0,347.78 115.0,347.78 116.0,347.79 117.0,347.80 118.0,347.80 119.0,347.81 120.0,347.82 121.0,347.82 122.0,347.83 123.0,347.84 124.0,347.84 125.0,347.85 126.0,347.86 127.0,347.86 128.0,347.87 129.0,347.88 130.0,347.89 131.0,347.89 132.0,347.90 133.0,347.91 134.0,347.91 135.0,347.92 136.0,347.93 137.0,347.93 138.0,347.94 139.0,347.95 140.0,347.95 141.0,347.96 142.0,347.97 143.0,347.97 144.0,347.98 145.0,347.99 146.0,348.00 147.0,348.00 148.0,348.01 149.0,348.02 150.0,348.02 151.0,348.03 152.0,348.04 153.0,348.04 154.0,348.05 155.0,348.06 156.0,348.06 157.0,348.07 158.0,348.08 159.0,348.08 160.0,348.09 161.0,348.10 162.0,348.10 163.0,348.11 164.0,348.12 165.0,348.12 166.0,348.13 167.0,348.14 168.0,348.14 169.0,348.15 170.0,348.16 171.0,348.16 172.0,348.17 173.0,348.18 174.0,348.18 175.0,348.19 176.0,348.19 177.0,348.20 178.0,348.20 179.0,348.21 180.0,348.21 181.0,348.22 182.0,348.22 183.0,348.23 184.0,348.23 185.0,348.23 186.0,348.23 187.0,348.24 188.0,348.24 189.0,348.24 190.0,348.23 191.0,348.23 192.0,348.23 193.0,348.22 194.0,348.22 195.0,348.21 196.0,348.20 197.0,348.19 198.0,348.18 199.0,348.16 200.0,348.14 201.0,348.12 202.0,348.09 203.0,348.07 204.0,348.03 205.0,348.00 206.0,347.96 207.0,347.91 208.0,347.86 209.0,347.80 210.0,347.74 211.0,347.67 212.0,347.59 213.0,347.51 214.0,347.41 215.0,347.31 216.0,347.20 217.0,347.08 218.0,346.95 219.0,346.81 220.0,346.65 221.0,346.48 222.0,346.30 223.0,346.11 224.0,345.90 225.0,345.68 226.0,345.44 227.0,345.19 228.0,344.92 229.0,344.64 230.0,344.34 231.0,344.02 232.0,343.68 233.0,343.33 234.0,342.96 235.0,342.57 236.0,342.16 237.0,341.74 238.0,341.30 239.0,340.84 240.0,340.37 241.0,339.88 242.0,339.38 243.0,338.86 244.0,338.32 245.0,337.78 246.0,337.22 247.0,336.65 248.0,336.07 249.0,335.49 250.0,334.89 251.0,334.29 252.0,333.69 253.0,333.08 254.0,332.47 255.0,331.86 256.0,331.26 257.0,330.65 258.0,330.05 259.0,329.45 260.0,328.87 261.0,328.29 262.0,327.72 263.0,327.16 264.0,326.62 265.0,326.09 266.0,325.58 267.0,325.09 268.0,324.61 269.0,324.16 270.0,323.73 271.0,323.31 272.0,322.93 273.0,322.57 274.0,322.23 275.0,321.92 276.0,321.63 277.0,321.38 278.0,321.15 279.0,320.95 280.0,320.79 281.0,320.65 282.0,320.54 283.0,320.46 284.0,320.42 285.0,320.40 286.0,320.42 287.0,320.47 288.0,320.55 289.0,320.66 290.0,320.80 291.0,320.97 292.0,321.17 293.0,321.40 294.0,321.66 295.0,321.94 296.0,322.26 297.0,322.60 298.0,322.96 299.0,323.36 300.0,323.77 301.0,324.21 302.0,324.67 303.0,325.15 304.0,325.65 305.0,326.17 306.0,326.71 307.0,327.26 308.0,327.82 309.0,328.40 310.0,328.99 311.0,329.59 312.0,330.19 313.0,330.81 314.0,331.42 315.0,332.04 316.0,332.67 317.0,333.29 318.0,333.91 319.0,334.53 320.0,335.15 321.0,335.76 322.0,336.36 323.0,336.96 324.0,337.55 325.0,338.12 326.0,338.69 327.0,339.24 328.0,339.78 329.0,340.30 330.0,340.81 331.0,341.30 332.0,341.78 333.0,342.24 334.0,342.68 335.0,343.11 336.0,343.52 337.0,343.91 338.0,344.29 339.0,344.64 340.0,344.98 341.0,345.30 342.0,345.61 343.0,345.90 344.0,346.17 345.0,346.43 346.0,346.67 347.0,346.90 348.0,347.11 349.0,347.31" stroke="#7c0c0c" stroke-width="2.4" stroke-dasharray="5.2 1.65" stroke-dashoffset="1.95"/><path d="M68.0,347.46 69.0,347.46 70.0,347.46 71.0,347.46 72.0,347.46 73.0,347.46 74.0,347.45 75.0,347.43 76.0,347.41 77.0,347.38 78.0,347.33 79.0,347.27 80.0,347.19 81.0,347.09 82.0,346.97 83.0,346.80 84.0,346.61 85.0,346.36 86.0,346.07 87.0,345.73 88.0,345.33 89.0,344.87 90.0,344.34 91.0,343.75 92.0,343.10 93.0,342.38 94.0,341.62 95.0,340.81 96.0,339.97 97.0,339.11 98.0,338.24 99.0,337.39 100.0,336.55 101.0,335.77 102.0,335.04 103.0,334.38 104.0,333.81 105.0,333.35 106.0,332.99 107.0,332.76 108.0,332.64 109.0,332.66 110.0,332.79 111.0,333.06 112.0,333.44 113.0,333.93 114.0,334.52 115.0,335.20 116.0,335.95 117.0,336.75 118.0,337.60 119.0,338.47 120.0,339.36 121.0,340.23 122.0,341.08 123.0,341.90 124.0,342.67 125.0,343.39 126.0,344.05 127.0,344.65 128.0,345.18 129.0,345.65 130.0,346.06 131.0,346.41 132.0,346.71 133.0,346.96 134.0,347.17 135.0,347.34 136.0,347.48 137.0,347.59 138.0,347.68 139.0,347.75 140.0,347.81 141.0,347.86 142.0,347.89 143.0,347.92 144.0,347.94 145.0,347.96 146.0,347.98 147.0,347.99 148.0,348.00 149.0,348.01 150.0,348.02 151.0,348.03 152.0,348.03 153.0,348.04 154.0,348.05 155.0,348.06 156.0,348.06 157.0,348.07 158.0,348.08 159.0,348.08 160.0,348.09 161.0,348.10 162.0,348.10 163.0,348.11 164.0,348.12 165.0,348.13 166.0,348.13 167.0,348.14 168.0,348.15 169.0,348.15 170.0,348.16 171.0,348.17 172.0,348.17 173.0,348.18 174.0,348.19 175.0,348.19 176.0,348.20 177.0,348.21 178.0,348.22 179.0,348.22 180.0,348.23 181.0,348.24 182.0,348.24 183.0,348.25 184.0,348.26 185.0,348.26 186.0,348.27 187.0,348.28 188.0,348.28 189.0,348.29 190.0,348.30 191.0,348.30 192.0,348.31 193.0,348.32 194.0,348.33 195.0,348.33 196.0,348.34 197.0,348.35 198.0,348.35 199.0,348.36 200.0,348.37 201.0,348.37 202.0,348.38 203.0,348.39 204.0,348.39 205.0,348.40 206.0,348.41 207.0,348.42 208.0,348.42 209.0,348.43 210.0,348.44 211.0,348.44 212.0,348.45 213.0,348.46 214.0,348.46 215.0,348.47 216.0,348.48 217.0,348.48 218.0,348.49 219.0,348.50 220.0,348.51 221.0,348.51 222.0,348.52 223.0,348.53 224.0,348.53 225.0,348.54 226.0,348.55 227.0,348.55 228.0,348.56 229.0,348.57 230.0,348.57 231.0,348.58 232.0,348.59 233.0,348.60 234.0,348.60 235.0,348.61 236.0,348.62 237.0,348.62 238.0,348.63 239.0,348.64 240.0,348.64 241.0,348.65 242.0,348.66 243.0,348.66 244.0,348.67 245.0,348.68 246.0,348.69 247.0,348.69 248.0,348.70 249.0,348.71 250.0,348.71 251.0,348.72 252.0,348.73 253.0,348.73 254.0,348.74 255.0,348.75 256.0,348.76 257.0,348.76 258.0,348.77 259.0,348.78 260.0,348.78 261.0,348.79 262.0,348.80 263.0,348.80 264.0,348.81 265.0,348.82 266.0,348.82 267.0,348.83 268.0,348.84 269.0,348.85 270.0,348.85 271.0,348.86 272.0,348.87 273.0,348.87 274.0,348.88 275.0,348.89 276.0,348.89 277.0,348.90 278.0,348.91 279.0,348.92 280.0,348.92 281.0,348.93 282.0,348.94 283.0,348.94 284.0,348.95 285.0,348.96 286.0,348.96 287.0,348.97 288.0,348.98 289.0,348.99 290.0,348.99 291.0,349.00 292.0,349.01 293.0,349.01 294.0,349.02 295.0,349.03 296.0,349.03 297.0,349.04 298.0,349.05 299.0,349.06 300.0,349.06 301.0,349.07 302.0,349.08 303.0,349.08 304.0,349.09 305.0,349.10 306.0,349.10 307.0,349.11 308.0,349.12 309.0,349.13 310.0,349.13 311.0,349.14 312.0,349.15 313.0,349.15 314.0,349.16 315.0,349.17 316.0,349.17 317.0,349.18 318.0,349.19 319.0,349.20 320.0,349.20 321.0,349.21 322.0,349.22 323.0,349.22 324.0,349.23 325.0,349.24 326.0,349.24 327.0,349.25 328.0,349.26 329.0,349.27 330.0,349.27 331.0,349.28 332.0,349.29 333.0,349.29 334.0,349.30 335.0,349.31 336.0,349.32 337.0,349.32 338.0,349.33 339.0,349.34 340.0,349.34 341.0,349.35 342.0,349.36 343.0,349.36 344.0,349.37 345.0,349.38 346.0,349.39 347.0,349.39 348.0,349.40 349.0,349.41" stroke="#1a7020" stroke-width="2.3" stroke-dasharray="5.2 1.65" stroke-dashoffset="0.14"/></g>
<path d="M68.0,207.5 V360.0 M349.0,207.5 V360.0" stroke="#333" stroke-width="1"/>
<path d="M67.5,208.0 H349.5" stroke="#000" stroke-width="1.0"/>
<path d="M67.5,359.5 H349.5" stroke="#222" stroke-width="1.0"/>
<path d="M111.2,359.5 v-3.5 M111.2,208.0 v3.5 M155.0,359.5 v-5 M155.0,208.0 v5 M198.3,359.5 v-3.5 M198.3,208.0 v3.5 M241.4,359.5 v-5 M241.4,208.0 v5 M284.8,359.5 v-3.5 M284.8,208.0 v3.5 M328.3,359.5 v-5 M328.3,208.0 v5" stroke="#222" stroke-width="1"/>
<path d="M68.0,351.19 h3.1 M349.0,351.19 h-3.1 M68.0,339.31 h3.1 M349.0,339.31 h-3.1 M68.0,329.60 h3.1 M349.0,329.60 h-3.1 M68.0,321.39 h3.1 M349.0,321.39 h-3.1 M68.0,314.28 h3.1 M349.0,314.28 h-3.1 M68.0,308.01 h3.1 M349.0,308.01 h-3.1 M68.0,302.40 h5.3 M349.0,302.40 h-5.3 M68.0,265.49 h3.1 M349.0,265.49 h-3.1 M68.0,243.90 h3.1 M349.0,243.90 h-3.1 M68.0,228.59 h3.1 M349.0,228.59 h-3.1 M68.0,216.71 h3.1 M349.0,216.71 h-3.1" stroke="#333" stroke-width="1.1"/>
<g fill="#ff0000"><circle cx="69.1" cy="345.0" r="2"/><circle cx="71.2" cy="344.2" r="2"/><circle cx="73.6" cy="351.0" r="2"/><circle cx="75.4" cy="353.2" r="2"/><circle cx="77.3" cy="345.3" r="2"/><circle cx="79.2" cy="348.4" r="2"/><circle cx="81.1" cy="347.0" r="2"/><circle cx="83.1" cy="346.0" r="2"/><circle cx="85.1" cy="351.0" r="2"/><circle cx="87.2" cy="349.8" r="2"/><circle cx="89.0" cy="341.0" r="2"/><circle cx="91.2" cy="332.1" r="2"/><circle cx="93.0" cy="341.3" r="2"/><circle cx="95.2" cy="341.7" r="2"/><circle cx="96.9" cy="339.0" r="2"/><circle cx="99.3" cy="331.0" r="2"/><circle cx="101.1" cy="338.3" r="2"/><circle cx="102.9" cy="333.9" r="2"/><circle cx="105.2" cy="335.0" r="2"/><circle cx="107.1" cy="329.2" r="2"/><circle cx="108.9" cy="323.9" r="2"/><circle cx="110.9" cy="333.9" r="2"/><circle cx="112.7" cy="328.2" r="2"/><circle cx="114.7" cy="328.2" r="2"/><circle cx="116.9" cy="329.4" r="2"/><circle cx="118.8" cy="336.9" r="2"/><circle cx="120.8" cy="335.0" r="2"/><circle cx="122.8" cy="334.5" r="2"/><circle cx="124.8" cy="333.5" r="2"/><circle cx="126.8" cy="330.4" r="2"/><circle cx="128.7" cy="334.3" r="2"/><circle cx="131.2" cy="334.5" r="2"/><circle cx="134.6" cy="331.1" r="2"/><circle cx="137.1" cy="330.1" r="2"/><circle cx="139.0" cy="325.2" r="2"/><circle cx="141.0" cy="324.7" r="2"/><circle cx="142.9" cy="326.2" r="2"/><circle cx="144.9" cy="322.5" r="2"/><circle cx="146.6" cy="314.1" r="2"/><circle cx="148.3" cy="319.8" r="2"/><circle cx="152.1" cy="312.6" r="2"/><circle cx="154.2" cy="310.1" r="2"/><circle cx="156.3" cy="305.3" r="2"/><circle cx="158.4" cy="304.9" r="2"/><circle cx="160.1" cy="297.9" r="2"/><circle cx="162.6" cy="295.5" r="2"/><circle cx="164.4" cy="290.5" r="2"/><circle cx="166.5" cy="283.2" r="2"/><circle cx="168.5" cy="277.9" r="2"/><circle cx="170.4" cy="271.4" r="2"/><circle cx="172.6" cy="261.3" r="2"/><circle cx="174.3" cy="255.0" r="2"/><circle cx="176.2" cy="249.4" r="2"/><circle cx="178.2" cy="242.8" r="2"/><circle cx="180.4" cy="236.8" r="2"/><circle cx="182.5" cy="232.8" r="2"/><circle cx="184.5" cy="227.9" r="2"/><circle cx="186.3" cy="224.1" r="2"/><circle cx="188.1" cy="221.1" r="2"/><circle cx="189.9" cy="218.5" r="2"/><circle cx="192.1" cy="216.4" r="2"/><circle cx="194.3" cy="217.3" r="2"/><circle cx="196.6" cy="218.5" r="2"/><circle cx="198.4" cy="219.4" r="2"/><circle cx="200.3" cy="222.5" r="2"/><circle cx="202.4" cy="225.1" r="2"/><circle cx="204.1" cy="228.9" r="2"/><circle cx="206.2" cy="234.7" r="2"/><circle cx="208.3" cy="241.2" r="2"/><circle cx="210.1" cy="246.9" r="2"/><circle cx="212.4" cy="252.9" r="2"/><circle cx="214.3" cy="260.7" r="2"/><circle cx="216.2" cy="268.1" r="2"/><circle cx="218.2" cy="274.7" r="2"/><circle cx="220.1" cy="282.2" r="2"/><circle cx="222.0" cy="285.0" r="2"/><circle cx="223.9" cy="292.4" r="2"/><circle cx="226.0" cy="300.5" r="2"/><circle cx="228.0" cy="302.4" r="2"/><circle cx="229.8" cy="307.2" r="2"/><circle cx="232.1" cy="312.3" r="2"/><circle cx="234.0" cy="314.1" r="2"/><circle cx="236.0" cy="320.7" r="2"/><circle cx="238.0" cy="321.5" r="2"/><circle cx="241.7" cy="319.2" r="2"/><circle cx="243.8" cy="323.4" r="2"/><circle cx="245.9" cy="329.5" r="2"/><circle cx="250.0" cy="322.4" r="2"/><circle cx="251.6" cy="323.2" r="2"/><circle cx="255.7" cy="327.3" r="2"/><circle cx="257.7" cy="324.2" r="2"/><circle cx="259.8" cy="319.1" r="2"/><circle cx="261.8" cy="321.2" r="2"/><circle cx="263.8" cy="322.6" r="2"/><circle cx="265.9" cy="321.6" r="2"/><circle cx="267.9" cy="318.8" r="2"/><circle cx="271.2" cy="318.2" r="2"/><circle cx="273.1" cy="321.4" r="2"/><circle cx="275.1" cy="322.6" r="2"/><circle cx="277.3" cy="316.1" r="2"/><circle cx="279.4" cy="322.2" r="2"/><circle cx="281.4" cy="320.3" r="2"/><circle cx="283.4" cy="318.8" r="2"/><circle cx="285.5" cy="322.4" r="2"/><circle cx="287.5" cy="320.3" r="2"/><circle cx="289.5" cy="321.4" r="2"/><circle cx="291.6" cy="321.4" r="2"/><circle cx="293.6" cy="321.4" r="2"/><circle cx="295.4" cy="327.1" r="2"/><circle cx="297.2" cy="321.5" r="2"/><circle cx="299.2" cy="325.4" r="2"/><circle cx="301.3" cy="319.7" r="2"/><circle cx="303.2" cy="325.6" r="2"/><circle cx="305.3" cy="321.0" r="2"/><circle cx="307.4" cy="326.5" r="2"/><circle cx="309.3" cy="328.8" r="2"/><circle cx="311.3" cy="329.3" r="2"/><circle cx="313.1" cy="316.7" r="2"/><circle cx="315.0" cy="331.1" r="2"/><circle cx="317.0" cy="334.2" r="2"/><circle cx="319.3" cy="338.9" r="2"/><circle cx="321.3" cy="336.2" r="2"/><circle cx="323.2" cy="338.7" r="2"/><circle cx="325.0" cy="348.0" r="2"/><circle cx="327.0" cy="327.2" r="2"/><circle cx="329.2" cy="330.8" r="2"/><circle cx="331.3" cy="344.4" r="2"/><circle cx="332.8" cy="348.9" r="2"/><circle cx="335.0" cy="348.0" r="2"/><circle cx="336.8" cy="347.1" r="2"/><circle cx="339.1" cy="343.3" r="2"/><circle cx="341.1" cy="346.0" r="2"/><circle cx="342.9" cy="348.0" r="2"/><circle cx="344.9" cy="341.3" r="2"/><circle cx="346.7" cy="346.0" r="2"/><circle cx="348.5" cy="347.8" r="2"/></g>
<text x="59.8" y="30.0" font-size="15.5" text-anchor="end">3000</text>
<text x="59.8" y="94.8" font-size="15.5" text-anchor="end">1000</text>
<text x="59.8" y="108.3" font-size="15.5" text-anchor="end">800</text>
<text x="59.8" y="125.7" font-size="15.5" text-anchor="end">600</text>
<text x="59.8" y="149.6" font-size="15.5" text-anchor="end">400</text>
<text x="67.5" y="170.0" font-size="15.5" text-anchor="middle">2268</text>
<text x="154.8" y="170.0" font-size="15.5" text-anchor="middle">2270</text>
<text x="241.5" y="170.0" font-size="15.5" text-anchor="middle">2272</text>
<text x="328.5" y="170.0" font-size="15.5" text-anchor="middle">2274</text>
<text x="199.6" y="187.0" font-size="15.5" text-anchor="middle">λ (Å)</text>
<text transform="translate(10.2,80.9) rotate(-90)" font-size="15.3" text-anchor="middle">Intensity (a.u.)</text>
<text x="59.8" y="217.8" font-size="15.5" text-anchor="end">5000</text>
<text x="59.8" y="243.8" font-size="15.5" text-anchor="end">3000</text>
<text x="59.8" y="303.5" font-size="15.5" text-anchor="end">1000</text>
<text x="59.8" y="315.6" font-size="15.5" text-anchor="end">800</text>
<text x="59.8" y="331.1" font-size="15.5" text-anchor="end">600</text>
<text x="59.8" y="352.8" font-size="15.5" text-anchor="end">400</text>
<text x="67.5" y="372.7" font-size="15.5" text-anchor="middle">2268</text>
<text x="154.8" y="372.7" font-size="15.5" text-anchor="middle">2270</text>
<text x="241.5" y="372.7" font-size="15.5" text-anchor="middle">2272</text>
<text x="328.5" y="372.7" font-size="15.5" text-anchor="middle">2274</text>
<text x="199.6" y="389.7" font-size="15.5" text-anchor="middle">λ (Å)</text>
<text transform="translate(10.6,283.5) rotate(-90)" font-size="15.3" text-anchor="middle">Intensity (a.u.)</text>
<text x="74.6" y="27.6" font-size="20.5" style="stroke-width:0.15px">(a)</text>
<text x="74.6" y="229.7" font-size="20.5" style="stroke-width:0.15px">(b)</text>
<text x="229.2" y="21.7" font-size="15.35">#31231 - Fibre 8</text>
<text x="227.5" y="226.0" font-size="15.35">#31195 - Fibre 5</text>
</svg>
</body></html>
